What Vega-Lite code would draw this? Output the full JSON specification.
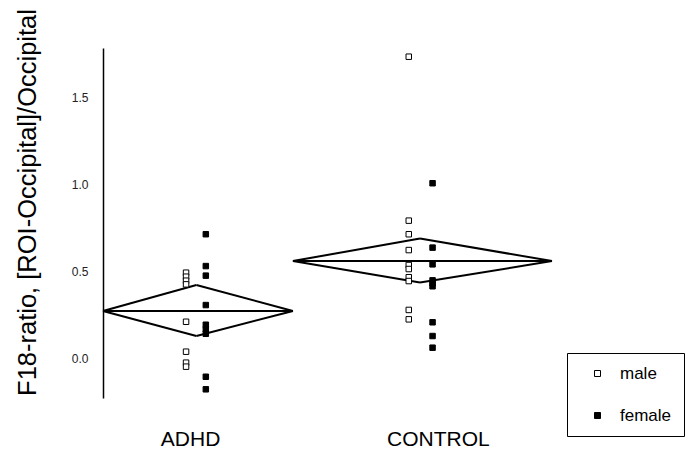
{
  "$schema": "https://vega.github.io/schema/vega-lite/v6.json",
  "width": 449,
  "height": 350,
  "autosize": {"type": "none"},
  "padding": {"left": 103, "top": 48, "right": 138, "bottom": 59},
  "background": "white",
  "config": {
    "view": {"stroke": null},
    "font": "Liberation Sans",
    "axisX": {"domain": false, "ticks": false, "grid": false, "labelFontSize": 21, "labelColor": "black", "labelPadding": 30, "labelFont": "Liberation Sans"},
    "axisY": {"grid": false, "ticks": false, "domainColor": "black", "domainWidth": 1.5, "labelFontSize": 12, "labelColor": "#222", "labelPadding": 15, "labelFont": "Liberation Sans"}
  },
  "datasets": {
    "points": [
      {"group": "ADHD", "sex": "male", "x": 0.185, "ratio": 0.492},
      {"group": "ADHD", "sex": "male", "x": 0.185, "ratio": 0.469},
      {"group": "ADHD", "sex": "male", "x": 0.185, "ratio": 0.446},
      {"group": "ADHD", "sex": "male", "x": 0.185, "ratio": 0.425},
      {"group": "ADHD", "sex": "male", "x": 0.185, "ratio": 0.210},
      {"group": "ADHD", "sex": "male", "x": 0.185, "ratio": 0.038},
      {"group": "ADHD", "sex": "male", "x": 0.185, "ratio": -0.025},
      {"group": "ADHD", "sex": "male", "x": 0.185, "ratio": -0.048},
      {"group": "ADHD", "sex": "female", "x": 0.229, "ratio": 0.713},
      {"group": "ADHD", "sex": "female", "x": 0.229, "ratio": 0.530},
      {"group": "ADHD", "sex": "female", "x": 0.229, "ratio": 0.475},
      {"group": "ADHD", "sex": "female", "x": 0.229, "ratio": 0.306},
      {"group": "ADHD", "sex": "female", "x": 0.229, "ratio": 0.193},
      {"group": "ADHD", "sex": "female", "x": 0.229, "ratio": 0.167},
      {"group": "ADHD", "sex": "female", "x": 0.229, "ratio": 0.141},
      {"group": "ADHD", "sex": "female", "x": 0.229, "ratio": -0.106},
      {"group": "ADHD", "sex": "female", "x": 0.229, "ratio": -0.178},
      {"group": "CONTROL", "sex": "male", "x": 0.681, "ratio": 1.733},
      {"group": "CONTROL", "sex": "male", "x": 0.681, "ratio": 0.791},
      {"group": "CONTROL", "sex": "male", "x": 0.681, "ratio": 0.713},
      {"group": "CONTROL", "sex": "male", "x": 0.681, "ratio": 0.622},
      {"group": "CONTROL", "sex": "male", "x": 0.681, "ratio": 0.536},
      {"group": "CONTROL", "sex": "male", "x": 0.681, "ratio": 0.513},
      {"group": "CONTROL", "sex": "male", "x": 0.681, "ratio": 0.466},
      {"group": "CONTROL", "sex": "male", "x": 0.681, "ratio": 0.444},
      {"group": "CONTROL", "sex": "male", "x": 0.681, "ratio": 0.278},
      {"group": "CONTROL", "sex": "male", "x": 0.681, "ratio": 0.224},
      {"group": "CONTROL", "sex": "female", "x": 0.734, "ratio": 1.006},
      {"group": "CONTROL", "sex": "female", "x": 0.734, "ratio": 0.636},
      {"group": "CONTROL", "sex": "female", "x": 0.734, "ratio": 0.540},
      {"group": "CONTROL", "sex": "female", "x": 0.734, "ratio": 0.448},
      {"group": "CONTROL", "sex": "female", "x": 0.734, "ratio": 0.431},
      {"group": "CONTROL", "sex": "female", "x": 0.734, "ratio": 0.414},
      {"group": "CONTROL", "sex": "female", "x": 0.734, "ratio": 0.207},
      {"group": "CONTROL", "sex": "female", "x": 0.734, "ratio": 0.128},
      {"group": "CONTROL", "sex": "female", "x": 0.734, "ratio": 0.061}
    ],
    "stats": [
      {"group": "ADHD", "left": 0, "mid": 0.208, "right": 0.423, "mean": 0.272, "lower": 0.128, "upper": 0.421},
      {"group": "CONTROL", "left": 0.423, "mid": 0.706, "right": 1.0, "mean": 0.559, "lower": 0.435, "upper": 0.688}
    ]
  },
  "layer": [
    {
      "data": {"name": "stats"},
      "mark": {"type": "rule", "color": "black", "strokeWidth": 2},
      "encoding": {
        "x": {"field": "left", "type": "quantitative", "scale": {"domain": [0, 1], "nice": false, "zero": false},
              "axis": {"values": [0.194, 0.746], "labelExpr": "datum.value < 0.5 ? 'ADHD' : 'CONTROL'", "title": null}},
        "x2": {"field": "mid"},
        "y": {"field": "mean", "type": "quantitative", "scale": {"domain": [-0.228, 1.783], "nice": false, "zero": false},
              "axis": {"values": [0, 0.5, 1, 1.5], "format": ".1f", "title": "F18-ratio, [ROI-Occipital]/Occipital",
                       "titleFontSize": 25.5, "titleFontWeight": "normal", "titleColor": "black", "titleFont": "Liberation Sans",
                       "titleAngle": 270, "titleX": -76, "titleY": 154, "titleAlign": "center", "titleBaseline": "middle"}},
        "y2": {"field": "upper"}
      }
    },
    {
      "data": {"name": "stats"},
      "mark": {"type": "rule", "color": "black", "strokeWidth": 2},
      "encoding": {
        "x": {"field": "mid", "type": "quantitative"},
        "x2": {"field": "right"},
        "y": {"field": "upper", "type": "quantitative"},
        "y2": {"field": "mean"}
      }
    },
    {
      "data": {"name": "stats"},
      "mark": {"type": "rule", "color": "black", "strokeWidth": 2},
      "encoding": {
        "x": {"field": "right", "type": "quantitative"},
        "x2": {"field": "mid"},
        "y": {"field": "mean", "type": "quantitative"},
        "y2": {"field": "lower"}
      }
    },
    {
      "data": {"name": "stats"},
      "mark": {"type": "rule", "color": "black", "strokeWidth": 2},
      "encoding": {
        "x": {"field": "mid", "type": "quantitative"},
        "x2": {"field": "left"},
        "y": {"field": "lower", "type": "quantitative"},
        "y2": {"field": "mean"}
      }
    },
    {
      "data": {"name": "stats"},
      "mark": {"type": "rule", "color": "black", "strokeWidth": 2},
      "encoding": {
        "x": {"field": "left", "type": "quantitative"},
        "x2": {"field": "right"},
        "y": {"field": "mean", "type": "quantitative"}
      }
    },
    {
      "data": {"name": "points"},
      "mark": {"type": "point", "shape": "square", "filled": true, "stroke": "black", "strokeWidth": 1, "size": 30, "opacity": 1},
      "encoding": {
        "x": {"field": "x", "type": "quantitative"},
        "y": {"field": "ratio", "type": "quantitative"},
        "fill": {"field": "sex", "type": "nominal",
                 "scale": {"domain": ["male", "female"], "range": ["white", "black"]},
                 "legend": {"title": null, "orient": "none", "legendX": 464, "legendY": 305,
                            "strokeColor": "black", "padding": 12, "symbolType": "square", "symbolSize": 36,
                            "symbolStrokeColor": "black", "symbolStrokeWidth": 1, "symbolOffset": 10,
                            "labelOffset": 14, "labelFontSize": 17, "labelColor": "black", "labelFont": "Liberation Sans",
                            "rowPadding": 24}}
      }
    }
  ]
}
